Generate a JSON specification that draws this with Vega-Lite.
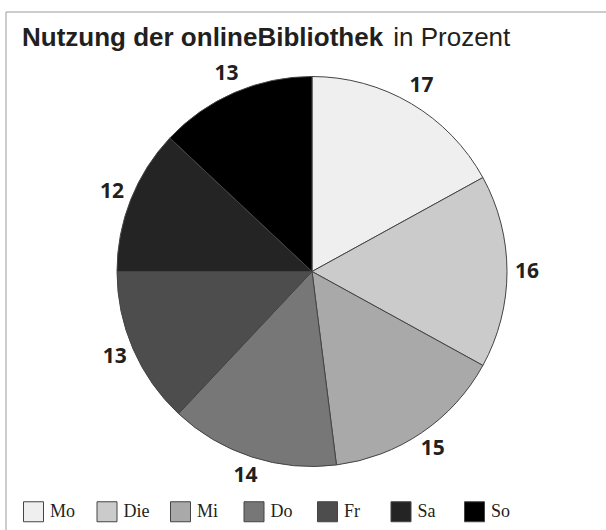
{
  "$schema": "https://vega.github.io/schema/vega-lite/v6.json",
  "width": 612,
  "height": 519,
  "autosize": "none",
  "padding": {"left": 6, "top": 12, "right": -12, "bottom": -1},
  "background": "white",
  "config": {
    "view": {"stroke": null}
  },
  "title": {
    "text": "Nutzung der onlineBibliothek",
    "subtitle": "\u200b\u2003\u2003\u2003\u2003\u2003\u2003\u2003\u2003\u2003\u2003\u2003\u2003\u2003\u2003\u00a0in Prozent",
    "anchor": "start",
    "frame": "group",
    "orient": "top",
    "offset": -39,
    "dx": 16,
    "font": "Liberation Sans",
    "fontSize": 26,
    "fontWeight": "bold",
    "color": "#231f20",
    "subtitleFont": "Liberation Sans",
    "subtitleFontSize": 26,
    "subtitleFontWeight": "normal",
    "subtitleColor": "#231f20",
    "subtitlePadding": -26
  },
  "layer": [
    {
      "data": {"values": [{"frame": "Rahmen"}]},
      "mark": {"type": "rect", "fill": null, "stroke": "#9a9a9a", "strokeWidth": 1},
      "encoding": {}
    },
    {
      "data": {
        "values": [
          {"i": 1, "day": "Mo", "value": 17},
          {"i": 2, "day": "Die", "value": 16},
          {"i": 3, "day": "Mi", "value": 15},
          {"i": 4, "day": "Do", "value": 14},
          {"i": 5, "day": "Fr", "value": 13},
          {"i": 6, "day": "Sa", "value": 12},
          {"i": 7, "day": "So", "value": 13}
        ]
      },
      "encoding": {
        "theta": {"field": "value", "type": "quantitative", "stack": true},
        "order": {"field": "i", "type": "quantitative"}
      },
      "layer": [
        {
          "mark": {"type": "arc", "outerRadius": 195, "stroke": "#444444", "strokeWidth": 1},
          "encoding": {
            "color": {
              "field": "day",
              "type": "nominal",
              "scale": {
                "domain": ["Mo", "Die", "Mi", "Do", "Fr", "Sa", "So"],
                "range": ["#efefef", "#cbcbcb", "#a9a9a9", "#777777", "#4d4d4d", "#242424", "#000000"]
              },
              "legend": {
                "title": null,
                "orient": "none",
                "legendX": 17,
                "legendY": 489,
                "direction": "horizontal",
                "columns": 7,
                "gridAlign": "all",
                "columnPadding": 18.5,
                "symbolType": "square",
                "symbolSize": 400,
                "symbolStrokeColor": "#444444",
                "symbolStrokeWidth": 1,
                "labelFont": "Liberation Serif",
                "labelFontSize": 18,
                "labelColor": "#231f20",
                "labelOffset": 6
              }
            }
          }
        },
        {
          "mark": {"type": "text", "radius": 215, "font": "Open Sans", "fontSize": 21, "fontWeight": "bold", "color": "#231f20"},
          "encoding": {
            "detail": {"field": "day", "type": "nominal"},
            "text": {"field": "value", "type": "quantitative"}
          }
        }
      ]
    }
  ]
}
